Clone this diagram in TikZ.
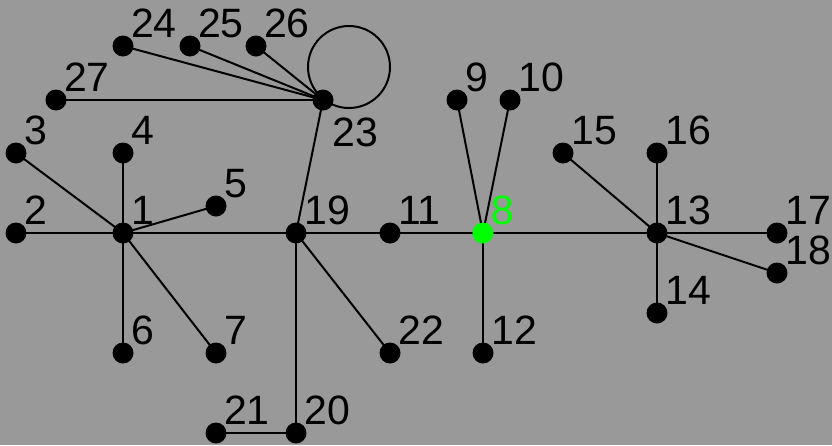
\documentclass[tikz,border=0pt]{standalone}
\usepackage{fontspec}
\setmainfont{Liberation Sans}
\definecolor{bggray}{RGB}{153,153,153}
\definecolor{vgreen}{RGB}{0,255,0}
\tikzset{
  v/.style={circle,fill=black,inner sep=0pt,minimum size=21pt},
  vg/.style={circle,fill=vgreen,inner sep=0pt,minimum size=21pt},
  lab/.style={anchor=base west,inner sep=0pt,font=\fontsize{41}{41}\selectfont},
  edge/.style={line width=2pt,draw=black},
}
\begin{document}
\begin{tikzpicture}[x=1pt,y=-1pt]
\fill[bggray] (0,0) rectangle (832,445);
\useasboundingbox (0,0) rectangle (832,445);
% vertices
\foreach \n/\x/\y in {1/123/233,2/16/233,3/16/153,4/123/153,5/216/206,6/123/353,7/216/353,
  9/457/100,10/510/100,11/390/233,12/483/353,13/657/233,14/657/313,15/563/153,16/657/153,
  17/777/233,18/777/273,19/296/233,20/296/433,21/216/433,22/390/353,23/323/100,
  24/123/46,25/190/46,26/256/46,27/56/100}{
  \coordinate (p\n) at (\x,\y);
}
\coordinate (p8) at (483,233);
\coordinate (c23) at (349,67);
% edges
\foreach \a/\b in {1/2,1/3,1/4,1/5,1/6,1/7,1/19,19/11,11/8,19/23,19/20,19/22,20/21,
  23/24,23/25,23/26,23/27,8/9,8/10,8/12,8/13,13/14,13/15,13/16,13/17,13/18}{
  \draw[edge] (p\a) -- (p\b);
}
\draw[edge] (c23) circle (41);
% vertex dots and labels
\foreach \n in {1,2,3,4,5,6,7,9,10,11,12,13,14,15,16,17,18,19,20,21,22,24,25,26,27}{
  \node[v] (n\n) at (p\n) {};
  \node[lab] (l\n) at ([xshift=8pt,yshift=9pt]p\n) {\n};
}
\node[v] (n23) at (p23) {};
\node[lab] (l23) at ([xshift=9pt,yshift=-46pt]p23) {23};
\node[vg] (n8) at (p8) {};
\node[lab,text=vgreen] (l8) at ([xshift=8pt,yshift=9pt]p8) {8};
\end{tikzpicture}
\end{document}
